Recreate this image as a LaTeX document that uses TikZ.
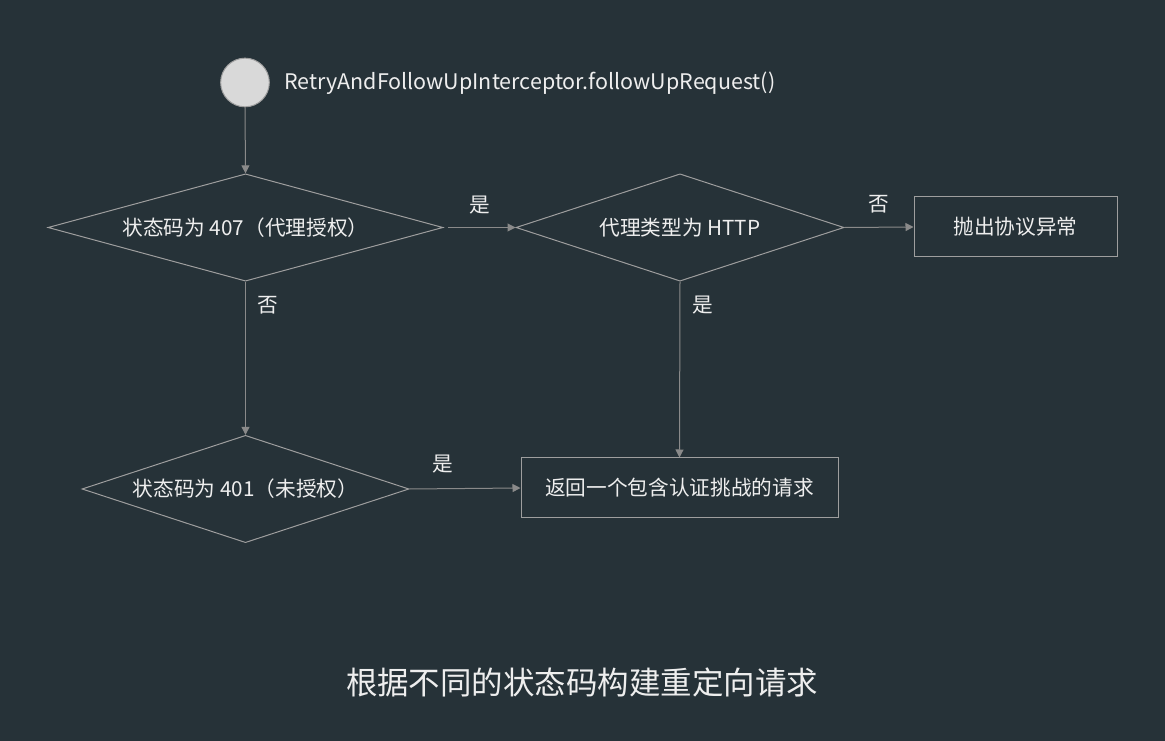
\documentclass[tikz,border=0pt]{standalone}
\usepackage{fontspec}
\setmainfont{Noto Sans CJK SC}
\usepackage{xcolor}
\definecolor{myslate}{RGB}{38,50,56}
\definecolor{mygrey}{RGB}{158,158,158}
\definecolor{myarrow}{RGB}{138,138,138}
\definecolor{mywhite}{RGB}{238,238,238}
\definecolor{mystart}{RGB}{217,217,217}
\usepackage{tikz}
\usetikzlibrary{shapes.geometric,arrows.meta,positioning}

\begin{document}
\begin{tikzpicture}[
  x=0.75pt, y=-0.75pt,
  every node/.style={text=mywhite, font=\fontsize{15.5}{18}\selectfont},
  decision/.style={diamond, aspect=3.4, draw=mygrey, line width=0.75pt, inner sep=0pt,
                   minimum height=80.5pt},
  action/.style={rectangle, draw=mygrey, line width=0.75pt, inner sep=0pt,
                 minimum height=45pt},
  arrow/.style={line width=0.75pt, -{Triangle[length=6pt,width=6pt]}, color=myarrow},
  tag/.style={inner sep=0pt}
]
  % Background
  \fill[myslate] (0,0) rectangle (1165,741);
  % Start and title
  \node[circle, fill=mystart, draw=mygrey, line width=0.75pt, minimum size=36.5pt,
        inner sep=0pt] (start) at (245,82.5) {};
  \node[tag, anchor=west, font=\fontsize{16.1}{20}\selectfont] (title) at (284,83)
        {RetryAndFollowUpInterceptor.followUpRequest()};
  % Row 1: 407 -> proxy type -> exception
  \node[decision, minimum width=296.25pt] (q407) at (245.5,227.5) {状态码为 407（代理授权）};
  \node[decision, minimum width=246pt] (proxyhttp) at (680,227.5) {代理类型为 HTTP};
  \node[action, minimum width=152.25pt] (throwex) at (1015.5,227) {抛出协议异常};
  % Row 2: 401 -> auth request
  \node[decision, minimum width=245.25pt] (q401) at (245.5,489) {状态码为 401（未授权）};
  \node[action, minimum width=237.75pt] (retreq) at (679.5,488) {返回一个包含认证挑战的请求};
  % Arrows
  \draw[arrow] (start.south) -- (q407.north);
  \draw[arrow, shorten <=3.5pt] (q407.east) -- (proxyhttp.west)
        node[tag, midway, yshift=17pt] {是};
  \draw[arrow] (proxyhttp.east) -- (throwex.west)
        node[tag, midway, yshift=17pt] {否};
  \draw[arrow] (q407.south) -- (q401.north)
        node[tag, pos=0.156, xshift=16.5pt] {否};
  \draw[arrow] (proxyhttp.south) -- (retreq.north)
        node[tag, pos=0.136, xshift=17pt] {是};
  \draw[arrow] (q401.east) -- (retreq.west)
        node[tag, pos=0.3, yshift=18.5pt] {是};
  % Caption
  \node[tag, font=\fontsize{23.6}{28}\selectfont] (caption) at (582,682)
        {根据不同的状态码构建重定向请求};
\end{tikzpicture}
\end{document}
